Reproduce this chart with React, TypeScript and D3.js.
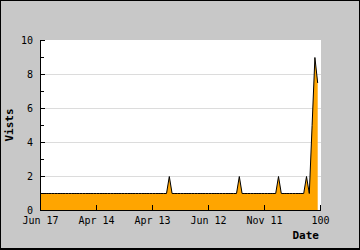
import React from "react";
import * as d3 from "d3";

const visits = [
  1, 1, 1, 1, 1, 1, 1, 1, 1, 1,
  1, 1, 1, 1, 1, 1, 1, 1, 1, 1,
  1, 1, 1, 1, 1, 1, 1, 1, 1, 1,
  1, 1, 1, 1, 1, 1, 1, 1, 1, 1,
  1, 1, 1, 1, 1, 1, 2, 1, 1, 1,
  1, 1, 1, 1, 1, 1, 1, 1, 1, 1,
  1, 1, 1, 1, 1, 1, 1, 1, 1, 1,
  1, 2, 1, 1, 1, 1, 1, 1, 1, 1,
  1, 1, 1, 1, 1, 2, 1, 1, 1, 1,
  1, 1, 1, 1, 1, 2, 1, 5, 9, 7.5,
];

const xTickPositions = [0, 20, 40, 60, 80, 100];
const xTickLabels = ["Jun 17", "Apr 14", "Apr 13", "Jun 12", "Nov 11", "100"];
const yMajorTicks = [0, 2, 4, 6, 8, 10];
const yMinorTicks = [1, 3, 5, 7, 9];

const W = 360;
const H = 250;
const MONO = "'DejaVu Sans Mono', monospace";

export default function App() {
  const x = d3.scaleLinear().domain([0, 100]).range([40.5, 320.5]);
  const y = d3.scaleLinear().domain([0, 10]).range([210.5, 40.5]);

  const pts = visits.map((v, i) => [i, v] as [number, number]);
  const area = d3
    .area<[number, number]>()
    .x((d) => x(d[0]))
    .y0(y(0))
    .y1((d) => y(d[1]))(pts) as string;
  const line = d3
    .line<[number, number]>()
    .x((d) => x(d[0]))
    .y((d) => y(d[1]))(pts) as string;

  return (
    <svg
      width={W}
      height={H}
      style={{ position: "absolute", left: 0, top: 0, display: "block" }}
    >
      <rect x={0} y={0} width={W} height={H} fill="#000" />
      <rect x={1} y={1} width={W - 2} height={H - 3} fill="#c8c8c8" />
      <rect x={41} y={40} width={280} height={170} fill="#fff" />

      {yMajorTicks
        .filter((t) => t > 0 && t < 10)
        .map((t) => (
          <line
            key={"g" + t}
            x1={41}
            x2={321}
            y1={y(t)}
            y2={y(t)}
            stroke="#dcdcdc"
            strokeWidth={1}
          />
        ))}

      <path d={area} fill="#ffa500" />
      <path d={line} fill="none" stroke="#000" strokeWidth={1} />

      {/* axes */}
      <line x1={40.5} x2={40.5} y1={40} y2={211} stroke="#000" />
      <line x1={40} x2={321} y1={210.5} y2={210.5} stroke="#000" />

      {yMajorTicks.map((t) => (
        <g key={"ym" + t}>
          <line x1={41} x2={45} y1={y(t)} y2={y(t)} stroke="#000" />
          <text
            x={33}
            y={y(t) + 3.5}
            textAnchor="end"
            fontFamily={MONO}
            fontSize={10}
            fill="#000"
          >
            {t}
          </text>
        </g>
      ))}
      {yMinorTicks.map((t) => (
        <line key={"yn" + t} x1={41} x2={44} y1={y(t)} y2={y(t)} stroke="#000" />
      ))}

      {xTickPositions.map((p, i) => (
        <g key={"x" + p}>
          <line x1={x(p)} x2={x(p)} y1={205} y2={210} stroke="#000" />
          <text
            x={x(p)}
            y={224}
            textAnchor="middle"
            fontFamily={MONO}
            fontSize={10}
            fill="#000"
          >
            {xTickLabels[i]}
          </text>
        </g>
      ))}

      <text
        x={319}
        y={239}
        textAnchor="end"
        fontFamily={MONO}
        fontSize={11}
        fontWeight="bold"
        fill="#000"
      >
        Date
      </text>
      <text
        transform={`translate(13,125) rotate(-90)`}
        textAnchor="middle"
        fontFamily={MONO}
        fontSize={11}
        fontWeight="bold"
        fill="#000"
      >
        Vists
      </text>
    </svg>
  );
}
